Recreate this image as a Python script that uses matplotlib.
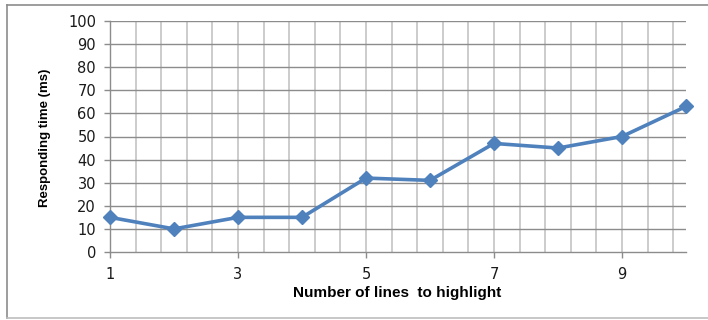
import numpy as np
import matplotlib
matplotlib.use("Agg")
import matplotlib.pyplot as plt
from matplotlib.lines import Line2D

# Data
lines_to_highlight = [1, 2, 3, 4, 5, 6, 7, 8, 9, 10]
responding_time_ms = [15, 10, 15, 15, 32, 31, 47, 45, 50, 63]
x_tick_labels = [1, 3, 5, 7, 9]
y_tick_labels = list(range(0, 101, 10))

line_color = "#4F81BD"
hgrid_color = "#8C8C8C"
vgrid_color = "#C4C4C4"
text_color = "#1A1A1A"

fig = plt.figure(figsize=(7.08, 3.20), dpi=100)
ax = fig.add_axes([110 / 708, 1 - 252 / 320, (686 - 110) / 708, (252 - 21) / 320])

ax.set_xlim(1, 10)
ax.set_ylim(0, 100)

# Minor vertical gridlines every 0.4 and horizontal gridlines every 10
for xv in np.arange(1.4, 10.0, 0.4):
    ax.axvline(xv, color=vgrid_color, lw=1.2, zorder=1)
for yv in y_tick_labels[1:]:
    ax.axhline(yv, color=hgrid_color, lw=1.0, zorder=1)

ax.plot(lines_to_highlight, responding_time_ms, color=line_color, lw=2.6,
        marker="D", markersize=7.5, markerfacecolor=line_color,
        markeredgecolor=line_color, zorder=3, clip_on=False)

for side in ["top", "right"]:
    ax.spines[side].set_visible(False)
for side in ["left", "bottom"]:
    ax.spines[side].set_color(hgrid_color)
    ax.spines[side].set_linewidth(1.0)

ax.set_xticks(x_tick_labels)
ax.set_xticklabels([str(v) for v in x_tick_labels])
ax.set_yticks(y_tick_labels)
ax.set_yticklabels([str(v) for v in y_tick_labels])
ax.tick_params(axis="both", colors=hgrid_color, labelcolor=text_color,
               length=4, width=1.0, labelsize=10.5)
ax.tick_params(axis="y", pad=6)
ax.tick_params(axis="x", pad=7)
for lab in ax.get_xticklabels() + ax.get_yticklabels():
    lab.set_family("DejaVu Sans")

fig.text(45 / 708, 1 - 138 / 320, "Responding time (ms)", rotation=90,
         ha="center", va="center", fontsize=9.5, fontweight="bold",
         family="Liberation Sans", color="black")
fig.text(397 / 708, 1 - 293 / 320, "Number of lines  to highlight",
         ha="center", va="center", fontsize=11, fontweight="bold",
         family="Liberation Sans", color="black")

# Chart area border (top, left, bottom)
border_color = "#8C8C8C"
fig.add_artist(Line2D([7 / 708, 708 / 708], [1 - 5 / 320, 1 - 5 / 320],
                      transform=fig.transFigure, color=border_color, lw=1.2))
fig.add_artist(Line2D([7 / 708, 7 / 708], [1 - 5 / 320, 1 - 318 / 320],
                      transform=fig.transFigure, color=border_color, lw=1.2))
fig.add_artist(Line2D([7 / 708, 708 / 708], [1 - 318 / 320, 1 - 318 / 320],
                      transform=fig.transFigure, color="#BDBDBD", lw=1.2))

fig.savefig("out.png", dpi=100, facecolor="white")
